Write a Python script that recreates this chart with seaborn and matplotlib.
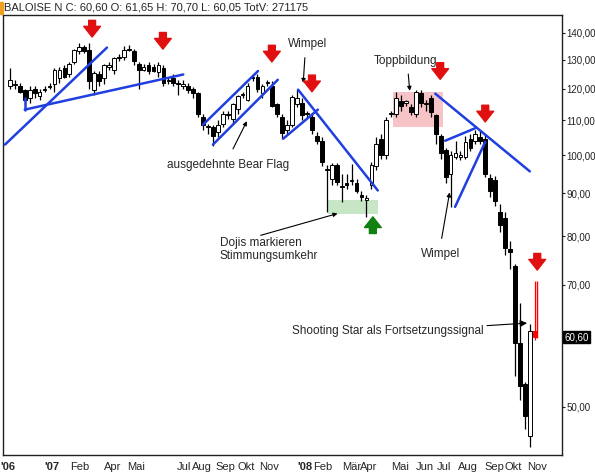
import numpy as np
import matplotlib
matplotlib.use("Agg")
import matplotlib.pyplot as plt
import matplotlib.ticker as mticker
import seaborn as sns

# ============================================
# DATA (weekly candles, Dec 2006 - Nov 2008)
# ============================================

opens = [121, 121.3, 121, 119.5, 117, 120, 117.5, 119.5, 120.5, 121.5,
         123.5, 127, 124.8, 129, 133, 134.5, 133.5, 119.7, 125, 123.6,
         127.5, 126.5, 130.5, 131, 133.5, 133, 128.5, 126.5, 128, 127.5,
         125.5, 127, 122.5, 123.5, 122, 121, 121, 120, 118.5, 111,
         108, 108, 106.5, 109, 111.5, 110.5, 113.5, 117.8, 116.5, 123.5,
         124, 118.5, 122, 121, 115, 111, 107.2, 108.7, 115, 115.5,
         112, 111, 105.5, 104, 95.9, 93.5, 97.4, 91.5, 92.3, 93,
         92.5, 89.5, 88.4, 92.2, 97, 104.5, 100, 112, 112, 116,
         115.5, 114, 112, 118.5, 115, 117, 111.5, 105.5, 101.5, 95,
         99.5, 99.5, 99.5, 104.5, 104, 105, 104.5, 93.9, 93.4, 85.5,
         84, 77.3, 73.6, 59.6, 53.2, 46.2, 61.65]
closes = [123, 121.6, 119, 116.5, 119.5, 118.5, 119, 120, 121, 126.5,
          126.5, 124, 128.5, 133.5, 134.5, 133, 122.5, 125.3, 122.5, 128,
          128, 130.5, 131, 133.5, 134, 129.5, 126.5, 127.5, 126, 126,
          128, 122, 123, 122, 121.5, 121.5, 119.5, 118.5, 112, 108.5,
          108, 105.5, 108.5, 112, 111.5, 115, 117.5, 118, 121, 124,
          120, 121, 122, 114.5, 112, 106.3, 108.7, 117.4, 117, 111.5,
          112, 107, 104, 98, 95.9, 97.4, 92.8, 91.8, 92.1, 93.3,
          90.5, 89.2, 88.9, 97.3, 103, 100, 110, 112.3, 117, 114.5,
          115.5, 112.5, 119, 115.5, 115, 112.5, 106, 100.5, 94, 100,
          100.5, 99.8, 103.7, 102, 106, 104, 95, 90.5, 88, 82.5,
          77.5, 76.5, 59.6, 53, 48.7, 61.6, 60.6]
highs = [127, 123, 122, 120, 121, 121, 120, 121, 122, 127,
         127.5, 128, 129, 134, 136, 135.5, 136, 126, 126, 128.5,
         129, 131, 132, 135, 135.5, 134, 129, 128.5, 129, 128.5,
         129, 128, 124, 125, 123, 123, 122, 120.5, 119, 112,
         109, 108.5, 110, 113, 113, 115.5, 118, 119, 122, 125,
         125, 121.5, 123, 122.5, 115.5, 112, 110, 118, 120, 117,
         113, 112, 106.5, 105, 97.4, 97.7, 97.8, 95, 95, 97.5,
         93.5, 90.5, 89.5, 98, 105, 106, 111, 113, 119, 118,
         116.5, 115, 119.5, 119.5, 116.5, 118, 112, 106, 102, 101,
         104, 101, 105.5, 106, 107, 107, 106, 95, 94.5, 87.5,
         85.5, 79, 74, 66.5, 53.5, 62.8, 70.7]
lows = [120, 120, 118.5, 115, 115.5, 117, 116.5, 119, 120, 119,
        122, 123.5, 124, 128.5, 132, 132.5, 120, 118, 121, 121.5,
        126.5, 125, 129.5, 130, 133, 128, 120, 126, 125, 125.5,
        124, 121, 121.5, 121, 118, 120, 118.5, 117, 111, 107,
        106, 102.5, 105, 108, 110.5, 109, 112, 117, 116, 122.5,
        119, 117, 121, 114, 111, 104.5, 106, 108, 114, 110,
        111, 106, 103, 97, 85.6, 92, 92, 87.8, 91, 92,
        90, 88, 84.3, 91, 96, 99, 99, 111, 111, 113,
        114.5, 111.5, 111, 114, 113, 111, 103, 99, 92.5, 86.7,
        99, 98.5, 99, 101, 103, 103, 94, 89, 87, 81,
        76, 73, 54.5, 51, 47, 44.8, 60.05]

price_ticks = [50, 60, 70, 80, 90, 100, 110, 120, 130, 140]
month_labels = ["'06", "'07", "Feb", "Apr", "Mai", "Jul", "Aug", "Sep", "Okt", "Nov",
                "'08", "Feb", "Mär", "Apr", "Mai", "Jun", "Jul", "Aug", "Sep", "Okt", "Nov"]
month_pos = [-0.4, 8.5, 14.1, 20.8, 25.5, 35.2, 38.8, 43.6, 47.7, 52.3,
             59.6, 63.2, 69.1, 72.5, 78.8, 83.8, 87.7, 92.5, 97.8, 101.6, 106.5]

# trend lines: (x0, p0, x1, p1)
trend_lines = [
    (-1, 102.9, 19.6, 134.4),
    (3, 113.3, 35, 124.8),
    (39, 108.7, 50.1, 126),
    (41, 102.9, 54.1, 123),
    (55.2, 104.6, 62.2, 113.3),
    (58.2, 119.7, 74.3, 90.7),
    (85.9, 118.4, 105, 95.6),
    (87.9, 104, 93.9, 107.6),
    (89.9, 86.7, 96, 103.7),
]
red_arrows = [(16.6, 137.3), (30.9, 132.8), (52.9, 128.2), (61, 118.1),
              (86.9, 122.2), (96, 108.7), (106.5, 72.3)]
green_arrow = (73.3, 85.0)

# ============================================
# PLOT
# ============================================

sns.set_style("white")
plt.rcParams["font.family"] = ["Liberation Sans", "DejaVu Sans"]

fig = plt.figure(figsize=(5.95, 4.76), dpi=100)
ax = fig.add_axes([3 / 595, 21 / 476, 559 / 595, 440 / 476])

n = len(closes)
for i in range(n):
    o, c, h, l = opens[i], closes[i], highs[i], lows[i]
    last = i == n - 1
    edge = "red" if last else "black"
    ax.vlines(i, l, h, color=edge, lw=0.9, zorder=3)
    fill = "red" if last else ("white" if c >= o else "black")
    lo, hi = min(o, c), max(o, c)
    if hi - lo < 0.4:
        hi = lo + 0.4
    ax.bar(i, hi - lo, bottom=lo, width=0.75, color=fill, edgecolor=edge, lw=0.7, zorder=4)

for (x0, p0, x1, p1) in trend_lines:
    ax.plot([x0, x1], [p0, p1], color="#1f3fe0", lw=1.8, zorder=5)
ax.plot([3, 3], [113.3, 117], color="#1f3fe0", lw=1.8, zorder=5)

# shaded zones
ax.fill_between([77.4, 87.5], 108, 119, color="#f4b6b8", alpha=0.8, zorder=1, lw=0)
ax.fill_between([64.2, 74.3], 85, 88.4, color="#b8e0b8", alpha=0.8, zorder=1, lw=0)

arrow_style = "simple,head_width=1.1,head_length=0.7,tail_width=0.45"
for (ax_x, ax_p) in red_arrows:
    ax.annotate("", xy=(ax_x, ax_p), xytext=(0, 16), textcoords="offset points",
                arrowprops=dict(arrowstyle=arrow_style, color="#e01010", mutation_scale=11), zorder=6)
ax.annotate("", xy=green_arrow, xytext=(0, -16), textcoords="offset points",
            arrowprops=dict(arrowstyle=arrow_style, color="#108010", mutation_scale=11), zorder=6)
ax.vlines(106.5, 60.4, 70.7, color="red", lw=1)

# text labels with arrows
thin = dict(arrowstyle="-|>", color="black", lw=0.8, mutation_scale=6)
ax.text(60.2, 135.8, "Wimpel", fontsize=8.5, ha="center", va="center")
ax.annotate("", xy=(59.2, 121), xytext=(59.6, 131.7), arrowprops=thin)
ax.text(79.8, 129.5, "Toppbildung", fontsize=8.5, ha="center", va="center")
ax.annotate("", xy=(80.8, 118.4), xytext=(80.4, 125.9), arrowprops=thin)
ax.text(44, 97.4, "ausgedehnte Bear Flag", fontsize=8.5, ha="center", va="center")
ax.annotate("", xy=(48.1, 110.5), xytext=(44.8, 101), arrowprops=thin)
ax.text(42.4, 77.1, "Dojis markieren\nStimmungsumkehr", fontsize=8.5, ha="left", va="center",
        linespacing=1.2)
ax.annotate("", xy=(66.7, 85.3), xytext=(50.1, 80), arrowprops=thin)
ax.text(86.9, 76.1, "Wimpel", fontsize=8.5, ha="center", va="center")
ax.annotate("", xy=(88.9, 90.9), xytext=(87.1, 78.9), arrowprops=thin)
ax.text(76.4, 61.6, "Shooting Star als Fortsetzungssignal", fontsize=8.5, ha="center", va="center")
ax.annotate("", xy=(105, 63), xytext=(95.8, 62.5),
            arrowprops=dict(arrowstyle="-|>", color="black", lw=0.8, mutation_scale=10))

ax.set_yscale("log")
ax.set_ylim(43.8, 147)
ax.set_xlim(-1.4, 111.5)
ax.yaxis.tick_right()
ax.set_yticks(price_ticks)
ax.yaxis.set_major_formatter(mticker.FuncFormatter(lambda v, p: f"{v:.2f}".replace(".", ",")))
ax.yaxis.set_minor_formatter(mticker.NullFormatter())
ax.yaxis.set_minor_locator(mticker.NullLocator())
ax.tick_params(axis="y", labelsize=7, length=2, pad=1, colors="#222222")
for lbl in ax.get_yticklabels():
    if lbl.get_text() == "60,00":
        lbl.set_visible(False)
ax.set_xticks(month_pos)
ax.set_xticklabels(month_labels)
for lbl in ax.get_xticklabels():
    if lbl.get_text().startswith("'"):
        lbl.set_fontweight("bold")
ax.tick_params(axis="x", labelsize=8, length=3, pad=2)
for s in ax.spines.values():
    s.set_color("#202020")
    s.set_linewidth(1)

ax.text(1.004, np.log(60.6 / 43.8) / np.log(147 / 43.8), "60,60", transform=ax.transAxes,
        fontsize=7, color="white", va="center", ha="left",
        bbox=dict(boxstyle="square,pad=0.1", fc="black", ec="black"))

fig.text(4 / 595, 1 - 8 / 476, "BALOISE N C: 60,60 O: 61,65 H: 70,70 L: 60,05 TotV: 271175",
         fontsize=8, va="center", ha="left")
fig.patches.append(plt.Rectangle((0, 1 - 14 / 476), 3 / 595, 12 / 476, transform=fig.transFigure,
                                 color="#f0a020", figure=fig))

fig.savefig("out.png", dpi=100)
